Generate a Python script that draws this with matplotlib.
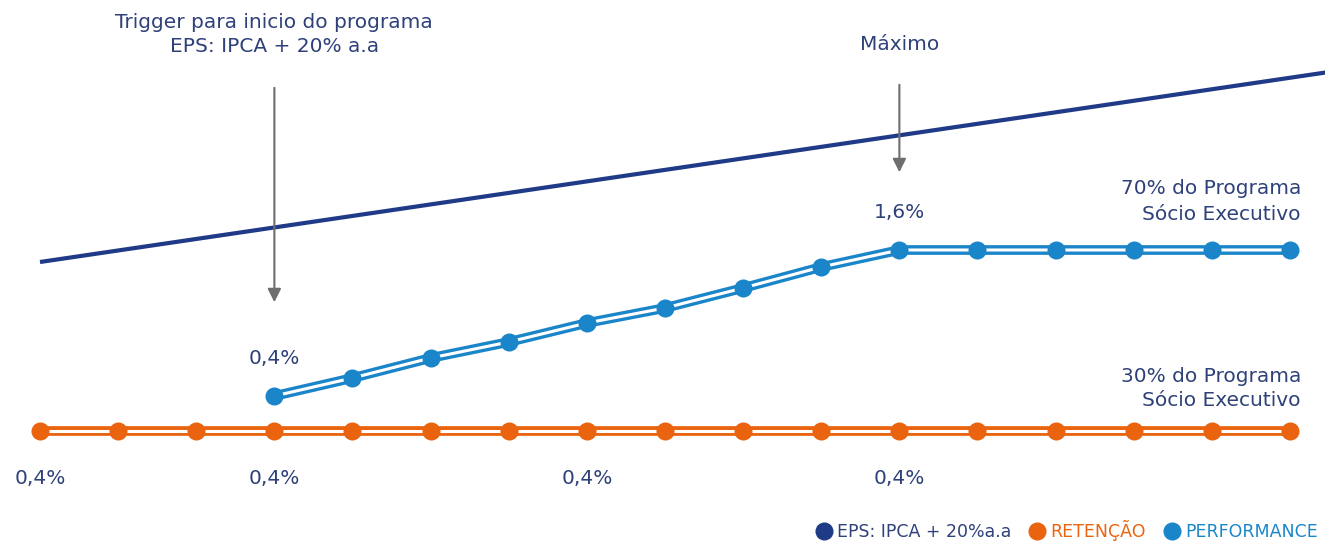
import matplotlib.pyplot as plt
from matplotlib.lines import Line2D

# Data (y in arbitrary chart units, orange baseline = 0)
idx = list(range(17))
retencao = [0] * 17
perf_idx = list(range(3, 17))
performance = [35, 53, 73, 89, 108, 123, 143, 164, 181, 181, 181, 181, 181, 181]
eps_x = [0, 16.5]
eps_y = [169, 359]
bottom_labels = ["0,4%", "0,4%", "0,4%", "0,4%"]
bottom_label_idx = [0, 3, 7, 11]
legend_labels = ["EPS: IPCA + 20%a.a", "RETENÇÃO", "PERFORMANCE"]

NAVY = "#1f3a87"
ORANGE = "#ea640f"
BLUE = "#1a86c9"
GRAY = "#6e6e6e"
TXT = "#2e4179"

plt.rcParams['font.family'] = ['DejaVu Sans']

fig = plt.figure(figsize=(13.25, 5.47), dpi=100)
ax = fig.add_axes([0, 0, 1, 1])
ax.set_xlim(-0.512, 16.448)
ax.set_ylim(-116, 431)
ax.axis('off')

# EPS line
ax.plot(eps_x, eps_y, color=NAVY, lw=3, solid_capstyle='butt', zorder=2)

# double lines
for xs, ys, c in [(idx, retencao, ORANGE), (perf_idx, performance, BLUE)]:
    ax.plot(xs, ys, color=c, lw=7, zorder=3)
    ax.plot(xs, ys, color='white', lw=2.2, zorder=4)
    ax.plot(xs, ys, 'o', color=c, ms=13, zorder=5, markeredgewidth=0)

# arrows
ax.annotate('', xy=(3, 126), xytext=(3, 346),
            arrowprops=dict(arrowstyle='-|>', color=GRAY, lw=1.5, mutation_scale=20))
ax.annotate('', xy=(11, 256), xytext=(11, 349),
            arrowprops=dict(arrowstyle='-|>', color=GRAY, lw=1.5, mutation_scale=20))

fs = 14.5
ax.text(3, 408, "Trigger para inicio do programa", ha='center', va='center', color=TXT, fontsize=fs)
ax.text(3, 385, "EPS: IPCA + 20% a.a", ha='center', va='center', color=TXT, fontsize=fs)
ax.text(11, 386, "Máximo", ha='center', va='center', color=TXT, fontsize=fs)
ax.text(11, 219, "1,6%", ha='center', va='center', color=TXT, fontsize=fs)
ax.text(3, 73, "0,4%", ha='center', va='center', color=TXT, fontsize=fs)
ax.text(16.14, 242, "70% do Programa", ha='right', va='center', color=TXT, fontsize=fs)
ax.text(16.14, 216, "Sócio Executivo", ha='right', va='center', color=TXT, fontsize=fs)
ax.text(16.14, 54, "30% do Programa", ha='right', va='center', color=TXT, fontsize=fs)
ax.text(16.14, 30, "Sócio Executivo", ha='right', va='center', color=TXT, fontsize=fs)
for i, lab in zip(bottom_label_idx, bottom_labels):
    ax.text(i, -47, lab, ha='center', va='center', color=TXT, fontsize=fs)

# legend
leg_colors = [NAVY, ORANGE, BLUE]
txt_colors = [TXT, ORANGE, BLUE]
handles = [Line2D([], [], marker='o', ls='', color=c, ms=12) for c in leg_colors]
leg = fig.legend(handles, legend_labels, loc='lower right', bbox_to_anchor=(1.005, -0.015),
                 ncol=3, frameon=False, fontsize=12.5, handletextpad=0.25, columnspacing=1.0,
                 handlelength=1.0, borderpad=0.3)
for t, tc in zip(leg.get_texts(), txt_colors):
    t.set_color(tc)

fig.savefig("out.png", dpi=100)
